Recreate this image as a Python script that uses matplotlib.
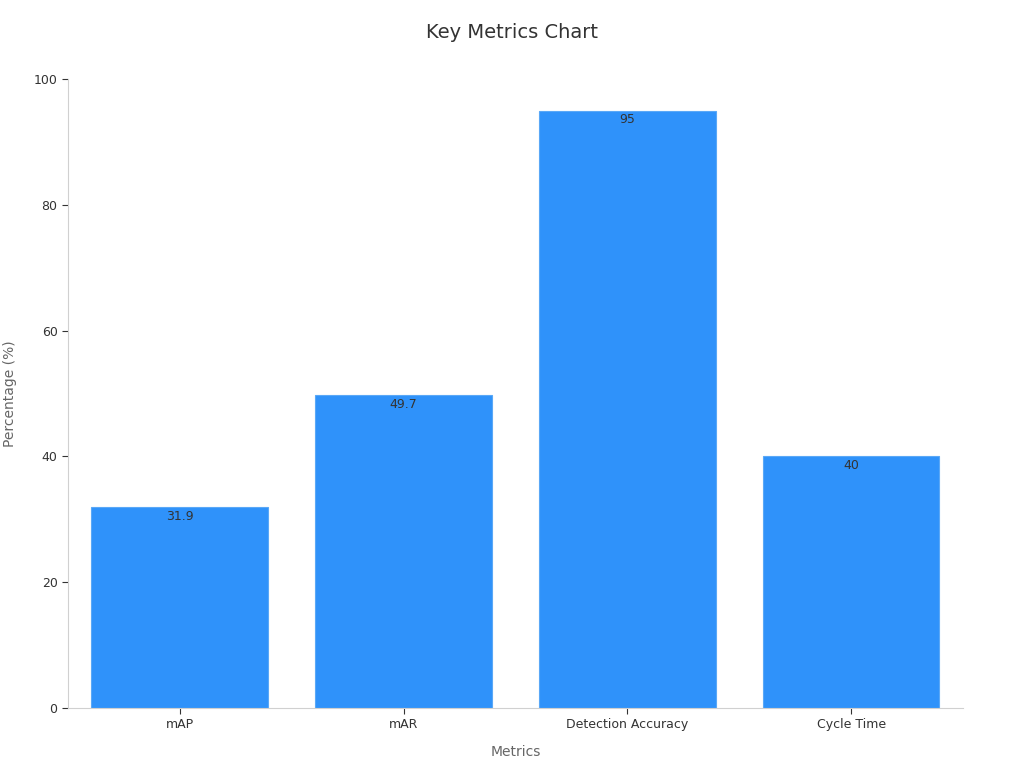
import matplotlib
matplotlib.use("Agg")
import matplotlib.pyplot as plt

# data
metrics = ["mAP", "mAR", "Detection Accuracy", "Cycle Time"]
values = [31.9, 49.7, 95, 40]
value_labels = ["31.9", "49.7", "95", "40"]

BAR_COLOR = "#2f92fa"
EDGE_COLOR = "#5aa8f7"
SPINE_COLOR = "#d0d0d0"
TEXT_DARK = "#333333"
TEXT_MUTED = "#666666"

plt.rcParams["font.family"] = ["DejaVu Sans"]

fig = plt.figure(figsize=(10.24, 7.68), dpi=100)
ax = fig.add_axes([0.0664, 0.078, 0.8740, 0.819])

x = list(range(len(metrics)))
bars = ax.bar(x, values, width=0.79, color=BAR_COLOR, edgecolor=EDGE_COLOR, linewidth=0.8)

for rect, lab in zip(bars, value_labels):
    ax.annotate(lab, (rect.get_x() + rect.get_width() / 2, rect.get_height()),
                xytext=(0, -2), textcoords="offset points",
                ha="center", va="top", fontsize=9, color=TEXT_DARK)

ax.set_xlim(-0.5, 3.5)
ax.set_ylim(0, 100)
ax.set_xticks(x)
ax.set_xticklabels(metrics)
ax.set_yticks([0, 20, 40, 60, 80, 100])

for side in ("top", "right"):
    ax.spines[side].set_visible(False)
for side in ("left", "bottom"):
    ax.spines[side].set_color(SPINE_COLOR)
    ax.spines[side].set_linewidth(0.8)

ax.tick_params(axis="both", labelsize=9, colors=TEXT_DARK, length=4, width=0.8)
ax.tick_params(axis="x", pad=3)

ax.set_xlabel("Metrics", fontsize=10, color=TEXT_MUTED, labelpad=10)
ax.set_ylabel("Percentage (%)", fontsize=10, color=TEXT_MUTED, labelpad=12)
fig.suptitle("Key Metrics Chart", fontsize=14, color=TEXT_DARK, y=0.97)

fig.savefig("out.png", dpi=100)
